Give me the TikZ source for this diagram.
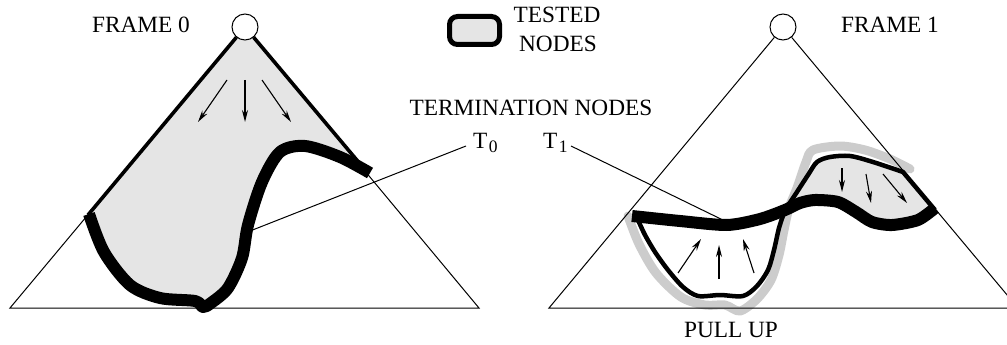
\documentclass[tikz,border=0pt]{standalone}
\usepackage{fontspec}
\setmainfont{Liberation Serif}
\usetikzlibrary{arrows.meta}
\definecolor{tested}{gray}{0.9}
\definecolor{halo}{gray}{0.8}
\tikzset{
  edge/.style={line width=1pt},
  heavy/.style={line width=12pt, line join=round},
  rim/.style={line width=4.5pt, line join=round},
  probe/.style={line width=1.1pt, -{Stealth[length=12pt,width=6pt]}},
  lbl/.style={inner sep=0pt, font=\fontsize{23.3}{28}\selectfont},
  apexnode/.style={circle, draw, fill=white, line width=1pt, minimum size=26pt, inner sep=0pt},
  leader/.style={line width=1pt}
}
\newcommand{\subnum}[1]{\kern1.5pt\raisebox{-4pt}{\fontsize{17.5}{17.5}\selectfont #1}}
\begin{document}
\begin{tikzpicture}[x=1pt,y=-1pt]
\useasboundingbox (0,0) rectangle (1007,345);
\clip (0,0) rectangle (1007,345);

% ---------------- frame 0 ----------------
\coordinate (Lbl) at (10,308);
\coordinate (Lbr) at (479,308);
\coordinate (Lcut) at (88,215);
\coordinate (Rcut) at (366,171);

% tested region below the root
\fill[tested] (245,27) -- (Rcut) -- plot[smooth,tension=0.5] coordinates {
  (366,171) (340,157) (305,146) (280,152) (262,182) (248,225) (242,258)
  (228,288) (211,303) (203,306) (195,301) (160,298) (130,285) (104,252) (88,215)}
  -- cycle;

\node[apexnode] (rootL) at (245,27) {};
\draw[edge] (rootL) -- (Lbl) -- (Lbr) -- (rootL);
\draw[rim, line width=3.6pt] (rootL) -- (Lcut);
\draw[rim, line width=3.6pt] (rootL) -- (Rcut);

% termination frontier T0
\draw[heavy] plot[smooth,tension=0.5] coordinates {
  (370,173) (340,157) (305,146) (280,152) (262,182) (248,225) (242,258)
  (228,288) (211,303) (203,307) (195,301) (160,298) (130,285) (104,252) (89,214)};

% search direction
\draw[probe] (227,80) -- (198,122);
\draw[probe] (245,80) -- (245,122);
\draw[probe] (262,80) -- (291,122);

\node[lbl, anchor=base] (frame0) at (141,33) {FRAME 0};

% ---------------- frame 1 ----------------
\coordinate (Rbl) at (549,308);
\coordinate (Rbr) at (1018,308);

% pulled-up area outline in light gray
\draw[halo, line width=9pt, line cap=round, line join=round] plot[smooth,tension=0.5] coordinates {
  (628,216) (639,244) (656,273) (681,297) (705,305) (725,305) (740,311)
  (757,299) (771,280) (779,255) (784,230) (789,208) (797,188) (806,162)
  (813,150) (840,146) (865,150) (890,159) (910,169)};

% tested region above the frontier
\fill[tested] plot[smooth,tension=0.5] coordinates {
  (785,210) (795,195) (808,175) (817,162) (830,157) (850,156) (873,162) (903,172)}
  -- (935,210) -- plot[smooth,tension=0.5] coordinates {
  (935,210) (918,220) (892,225) (872,222) (856,212) (838,202) (815,200) (800,203) (785,210)}
  -- cycle;

\node[apexnode] (rootR) at (783,27) {};
\draw[edge] (rootR) -- (Rbl) -- (Rbr) -- (rootR);

% cup below the frontier
\draw[rim] plot[smooth,tension=0.5] coordinates {
  (638,220) (645,235) (655,252) (668,270) (683,287) (698,296) (720,295)
  (743,296) (757,286) (768,270) (774,250) (779,228) (785,210)};
% upper tested blob outline
\draw[rim] plot[smooth,tension=0.5] coordinates {
  (785,210) (795,195) (808,175) (817,162) (830,157) (850,156) (873,162) (903,172)}
  -- (935,210);

% termination frontier T1
\draw[heavy] plot[smooth,tension=0.45] coordinates {
  (632,216) (680,221) (727,225) (760,219) (785,210) (800,203) (815,200)
  (838,202) (856,212) (872,222) (892,225) (918,220) (935,208)};

% pull-up direction
\draw[probe] (678,273) -- (701,239);
\draw[probe] (719,279) -- (719,245);
\draw[probe] (754,273) -- (743,239);
% search direction
\draw[probe] (842,168) -- (842,192);
\draw[probe] (866,174) -- (871,203);
\draw[probe] (883,174) -- (907,203);

\node[lbl, anchor=base] (frame1) at (890,33) {FRAME 1};
\node[lbl, anchor=base] (pull) at (731,337) {PULL UP};

% ---------------- key and labels ----------------
\node[draw, rounded corners=8pt, line width=5pt, fill=tested,
      minimum width=50pt, minimum height=28pt, inner sep=0pt] (key) at (474.5,30.5) {};
\node[lbl, anchor=base] (tested1) at (557,23) {TESTED};
\node[lbl, anchor=base] (tested2) at (558,52) {NODES};

\node[lbl, anchor=base] (term) at (531,115) {TERMINATION NODES};
\node[lbl, anchor=base west] (T0) at (473,148) {T\subnum{0}};
\node[lbl, anchor=base west] (T1) at (543,148) {T\subnum{1}};

\coordinate (t0tip) at (466,146);
\coordinate (t0foot) at (250,231);
\coordinate (t1tip) at (571,146);
\coordinate (t1foot) at (727,222);
\draw[leader] (t0tip) -- (t0foot);
\draw[leader] (t1tip) -- (t1foot);
\end{tikzpicture}
\end{document}
